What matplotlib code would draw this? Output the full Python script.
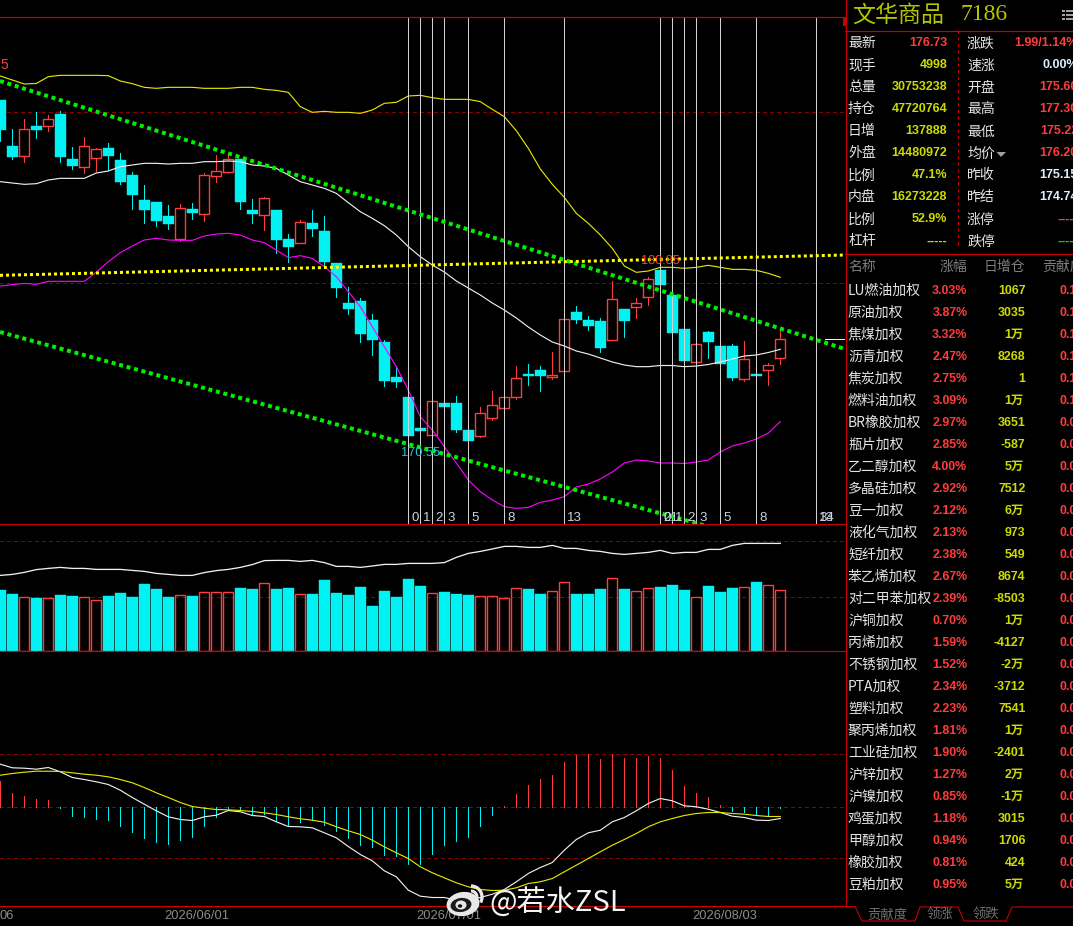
import matplotlib
matplotlib.use("Agg")
import matplotlib.pyplot as plt
from matplotlib.patches import Rectangle, Ellipse, Polygon, Arc

CJK = ['Noto Sans CJK SC', 'DejaVu Sans']
NUM = ['Liberation Sans', 'DejaVu Sans']
plt.rcParams['font.family'] = CJK

# ---------------- data ----------------
opens = [191.07,188.31,187.73,189.51,189.53,190.23,187.53,187.07,187.61,188.19,187.47,186.57,185.07,184.95,184.11,182.75,184.53,184.25,186.53,186.77,187.53,184.47,184.19,184.47,182.73,182.51,183.69,183.21,181.29,178.89,179.01,177.87,176.55,174.45,173.25,171.39,170.97,172.89,172.89,171.27,170.93,172.01,172.61,173.27,174.63,174.87,174.45,174.83,178.35,177.87,177.81,176.69,178.53,178.67,179.27,180.85,179.37,177.33,175.35,177.15,176.31,176.31,174.35,174.63,174.89,175.60]
closes = [189.27,187.65,189.31,189.27,189.91,187.65,187.11,188.29,188.13,187.71,186.15,185.37,184.47,183.81,183.63,184.57,184.29,186.55,186.79,187.51,184.95,184.23,185.17,182.67,182.25,183.73,183.33,181.35,179.79,178.53,177.03,176.67,174.21,174.15,170.91,171.21,172.99,172.65,171.27,170.61,172.27,172.75,173.23,174.37,174.51,174.51,174.57,177.91,177.87,177.51,176.19,179.11,177.81,178.87,180.31,179.97,177.09,175.41,176.41,176.55,175.23,174.39,175.51,174.51,175.15,176.73]
highs = [191.07,189.33,189.91,190.35,190.17,190.41,188.25,188.85,188.19,188.49,187.89,186.75,185.97,184.95,184.77,184.83,184.89,186.69,187.77,187.89,187.53,185.13,185.25,184.47,183.03,183.87,184.47,184.11,181.29,179.85,179.19,178.23,176.67,175.11,173.25,171.39,172.99,172.89,173.31,171.27,172.65,173.61,173.23,175.11,175.23,175.11,175.95,177.91,178.71,178.11,177.99,180.21,178.53,179.19,180.45,180.85,179.43,177.33,176.41,177.21,176.31,176.43,176.61,174.63,175.29,177.30]
lows = [188.61,187.53,187.37,188.79,189.21,187.35,186.93,186.69,186.81,186.87,186.03,184.53,183.69,183.51,183.33,182.61,183.93,183.81,186.15,186.69,184.53,183.69,183.27,181.89,181.35,182.49,182.91,181.11,179.25,178.23,176.55,175.77,173.91,173.85,170.91,171.21,170.97,172.65,171.15,170.55,170.85,171.87,172.61,173.13,173.97,173.61,174.33,174.83,177.69,177.27,175.95,176.67,176.85,177.99,178.77,179.97,177.09,175.41,175.35,175.59,175.23,174.27,174.21,174.51,173.97,175.22]
band_upper = [192.51,192.27,192.03,192.06,192.47,192.55,192.55,192.55,192.55,192.53,192.21,192.05,191.83,191.77,191.83,191.83,191.83,191.77,191.77,191.77,191.83,191.83,191.71,191.65,191.53,190.67,190.33,190.39,190.33,190.33,190.27,190.47,190.87,190.93,191.31,191.35,191.21,191.11,191.11,191.11,190.97,190.51,190.07,189.23,188.17,186.93,186.01,185.23,184.27,183.67,182.97,182.17,181.11,180.73,180.81,181.03,181.03,180.97,181.03,181.15,181.03,180.91,180.91,180.85,180.67,180.43]
band_mid = [186.17,186.09,186.01,186.05,186.27,186.37,186.37,186.37,186.69,186.81,187.07,187.17,187.27,187.27,187.23,187.27,187.27,187.37,187.37,187.41,187.37,187.17,187.11,186.97,186.57,186.17,185.97,185.77,185.47,184.91,184.37,183.97,183.53,182.97,182.27,181.67,181.17,180.75,180.21,179.79,179.37,178.89,178.47,177.99,177.45,176.97,176.55,176.31,176.01,175.83,175.59,175.35,175.17,175.07,175.07,175.14,175.14,175.07,175.11,175.20,175.35,175.53,175.71,175.77,175.92,176.11]
band_lower = [179.91,179.99,180.07,180.01,180.19,180.19,180.19,180.19,180.73,181.37,181.91,182.31,182.67,182.77,182.67,182.65,182.65,182.91,183.03,183.07,182.97,182.67,182.51,182.07,181.61,181.73,181.57,181.07,180.47,179.57,178.67,177.47,176.27,175.07,173.67,172.07,171.27,170.27,169.29,168.27,167.57,167.07,166.67,166.57,166.63,166.93,167.07,167.27,167.85,168.03,168.33,168.75,169.29,169.47,169.41,169.29,169.29,169.26,169.35,169.47,169.95,170.31,170.49,170.73,171.09,171.77]
volume = [30.5,28.5,27,26.5,26.5,28,27.5,27,25.5,27.5,29,27,33.5,31,27,28,27.5,29.5,29.5,29.5,31.5,31,34,31,31.5,28.5,28.5,35.5,29,28,32,22.5,30,27,36,32.5,29,29.5,28.5,28,27.5,27.5,26.5,31.3,31,28.5,30,34.5,28.5,28.5,31,36.5,31,30,31.5,32,33,30.5,27,32.5,29.5,31.5,32,34.5,33,30.75]
open_interest = [37.8,38.3,39.3,40.7,41.3,41.8,41.3,41.3,40.8,40.8,40.8,40.3,39.8,38.8,38.3,37.8,37.8,39.2,40.2,40.8,41.8,43.2,45.2,45.3,45.3,44.8,45.3,44.2,42.3,42.3,41.8,42.5,43.3,43.3,43.8,43.8,43.8,44.2,46.8,48.8,49.8,51,52.3,52.3,51.8,51.8,52.8,51.3,51.3,50.3,49.8,48.8,48.3,48.8,49.3,50.3,48.8,49.3,49.3,50.8,50.8,52.8,53.8,53.8,53.8,53.8]
macd_hist = [2.53,1.33,1.03,.73,.63,-.17,-.97,-1.07,-1.27,-1.37,-1.97,-2.57,-3.17,-3.57,-3.77,-3.37,-3.07,-1.97,-1.07,-.17,-.37,-.87,-.77,-1.47,-1.97,-1.57,-1.37,-1.87,-2.47,-3.17,-3.87,-4.07,-4.87,-4.97,-5.77,-5.77,-4.77,-3.87,-3.47,-3.07,-1.97,-.87,.03,1.23,2.13,2.73,3.13,4.43,5.13,5.23,4.73,5.23,4.83,4.83,5.03,4.83,3.63,2.03,1.33,.93,.13,-.47,-.57,-.87,-.87,-.17]
macd_dif = [4.23,3.87,3.83,3.73,3.9,3.47,2.9,2.7,2.47,2.2,1.63,.9,.23,-.43,-1.03,-1.3,-1.4,-1.03,-.87,-.4,-.53,-.9,-1,-1.53,-2,-2.03,-2.13,-2.63,-3.13,-4,-4.8,-5.43,-6.43,-7.03,-8.37,-8.97,-9.1,-9.1,-9.37,-9.37,-9.1,-8.77,-8.3,-7.53,-6.7,-6.1,-5.6,-4.37,-3.3,-2.63,-2.37,-1.53,-1.1,-.43,.3,.8,.57,.07,-.03,-.27,-.6,-.97,-1.1,-1.37,-1.4,-1.2]
macd_dea = [3.13,3.3,3.43,3.53,3.53,3.5,3.37,3.23,3.13,2.97,2.7,2.37,1.9,1.37,.9,.4,0,-.17,-.3,-.33,-.4,-.5,-.63,-.8,-1.03,-1.23,-1.37,-1.57,-2.03,-2.43,-2.8,-3.37,-4.03,-4.63,-5.2,-6.03,-6.63,-7.13,-7.63,-8.03,-8.3,-8.4,-8.37,-8.13,-7.7,-7.53,-7.2,-6.53,-5.87,-5.2,-4.53,-3.87,-3.3,-2.7,-2.03,-1.53,-1.2,-.9,-.7,-.6,-.6,-.7,-.77,-.9,-1,-1]

trend_x = [-0.025, 70.39]
trend_upper = [192.21, 176.13]
trend_lower = [177.15, 163.23]
trend_flat = [180.55, 181.77]
price_guides = [190.35, 180.09]
vol_guides = [27.25, 55]
macd_guides = [5.3, 0, -5.15]
fib_a = [(34,0),(35,1),(36,2),(37,3),(39,5),(42,8),(47,13),(55,21),(68,34)]
fib_b = [(55,0),(56,1),(57,2),(58,3),(60,5),(63,8),(68,13)]
peak_label = (55, 180.85)
trough_label = (35, 170.55)
date_labels = [("06",7),("2026/06/01",197),("2026/07/01",449),("2026/08/03",725)]

title_name = "文华商品"
title_code = "7186"
quote_left = [("最新","176.73","r"),("现手","4998","y"),("总量","30753238","y"),("持仓","47720764","y"),("日增","137888","y"),("外盘","14480972","y"),("比例","47.1%","y"),("内盘","16273228","y"),("比例","52.9%","y"),("杠杆","-----","y")]
quote_right = [("涨跌","1.99/1.14%","r"),("速涨","0.00%","b"),("开盘","175.60","r"),("最高","177.30","r"),("最低","175.22","r"),("均价","176.20","r"),("昨收","175.15","b"),("昨结","174.74","b"),("涨停","-----","r"),("跌停","-----","g")]
names = ["LU燃油加权","原油加权","焦煤加权","沥青加权","焦炭加权","燃料油加权","BR橡胶加权","瓶片加权","乙二醇加权","多晶硅加权","豆一加权","液化气加权","短纤加权","苯乙烯加权","对二甲苯加权","沪铜加权","丙烯加权","不锈钢加权","PTA加权","塑料加权","聚丙烯加权","工业硅加权","沪锌加权","沪镍加权","鸡蛋加权","甲醇加权","橡胶加权","豆粕加权"]
pcts = ["3.03%","3.87%","3.32%","2.47%","2.75%","3.09%","2.97%","2.85%","4.00%","2.92%","2.12%","2.13%","2.38%","2.67%","2.39%","0.70%","1.59%","1.52%","2.34%","2.23%","1.81%","1.90%","1.27%","0.85%","1.18%","0.94%","0.81%","0.95%"]
oi_changes = ["1067","3035","1万","8268","1","1万","3651","-587","5万","7512","6万","973","549","8674","-8503","1万","-4127","-2万","-3712","7541","1万","-2401","2万","-1万","3015","1706","424","5万"]
contrib = ["0.1"]*6 + ["0.0"]*22
tabs = [("贡献度",887),("领涨",940),("领跌",986)]

# ---------------- style ----------------
W, H = 1073, 926
CY = '#00F2F2'; RD = '#FF3C3C'; YL = '#FFFF00'; DR = '#8E0000'; BORDER = '#C80000'
TXT_Y = '#CCDB00'
VALC = {"r": RD, "y": TXT_Y, "b": '#DDEEFF', "g": '#00E000'}

fig = plt.figure(figsize=(W/100, H/100), dpi=100, facecolor='black')

def pane(top, bottom):
    a = fig.add_axes([0, 1-bottom/H, 845/W, (bottom-top)/H], facecolor='black')
    a.set_axis_off()
    a.set_xlim(trend_x)
    return a

ax = pane(17, 524);  ax.set_ylim(165.63, 196.05)
av = pane(524, 651); av.set_ylim(0, 63.5)
am = pane(651, 906); am.set_ylim(-9.95, 15.55)

PX = 0.72  # points per pixel at dpi 100
xs = list(range(len(closes)))
W_BODY = 0.875
W_HOLLOW = 0.84

def guides(a, vals):
    for v in vals:
        a.axhline(v, color=DR, lw=PX, ls=(0, (4, 4)), zorder=1, antialiased=False)

guides(ax, price_guides); guides(av, vol_guides); guides(am, macd_guides)

def hollow(a, x, bot, height):
    # four crisp one-pixel strokes, brighter than an antialiased patch edge
    left, right = x-W_HOLLOW/2, x+W_HOLLOW/2
    a.plot([left, right, right, left, left], [bot, bot, bot+height, bot+height, bot],
           color=RD, lw=PX*1.4, zorder=2, solid_joinstyle='miter', snap=True)

# candles
for i in xs:
    o, c, h, l = opens[i], closes[i], highs[i], lows[i]
    up = c >= o
    col = RD if up else CY
    top, bot = max(o, c), min(o, c)
    if h > top:
        ax.plot([i, i], [top, h], color=col, lw=PX, zorder=2, solid_capstyle='butt', antialiased=False)
    if l < bot:
        ax.plot([i, i], [l, bot], color=col, lw=PX, zorder=2, solid_capstyle='butt', antialiased=False)
    if up:
        hollow(ax, i, bot, top-bot)
        hollow(av, i, 0, volume[i])
    else:
        ax.add_patch(Rectangle((i-W_BODY/2, bot), W_BODY, top-bot, fc=CY, ec=CY, lw=0.3, zorder=2))
        av.add_patch(Rectangle((i-W_BODY/2, 0), W_BODY, volume[i], fc=CY, ec=CY, lw=0.3, zorder=2))
    am.plot([i, i], [0, macd_hist[i]], color=RD if macd_hist[i] >= 0 else CY, lw=PX, zorder=2,
            solid_capstyle='butt', antialiased=False)

ax.plot(xs, band_upper, color='#E6E600', lw=PX*1.15, zorder=3)
ax.plot(xs, band_mid, color='#F0F0F0', lw=PX*1.15, zorder=3)
ax.plot(xs, band_lower, color='#FF00FF', lw=PX*1.15, zorder=3)
ax.hlines(closes[-1], 68.7, 70.39, color='#F0F0F0', lw=PX, zorder=3, antialiased=False)
av.plot(xs, open_interest, color='#F0F0F0', lw=PX*1.3, zorder=3)
am.plot(xs, macd_dif, color='#F0F0F0', lw=PX*1.15, zorder=3)
am.plot(xs, macd_dea, color='#E6E600', lw=PX*1.15, zorder=3)

# fibonacci time lines
fib_idx = sorted({k for k, _ in fib_a} | {k for k, _ in fib_b})
for k in fib_idx:
    ax.axvline(k, color='#D2D2D2', lw=PX, zorder=4, antialiased=False)
ytxt = 165.63 + (524-518)*0.06
for k, n in fib_a + fib_b:
    ax.annotate(str(n), (k, ytxt), xytext=(3, 0), textcoords='offset pixels', color='#C8D4E4',
                fontsize=9.5, family=NUM, va='center', ha='left', zorder=6)

# trend lines
ax.plot(trend_x, trend_upper, color='#00F000', lw=PX*4, ls=(0, (1, 0.93)), zorder=5)
ax.plot(trend_x, trend_lower, color='#00F000', lw=PX*4, ls=(0, (1, 0.93)), zorder=5)
ax.plot(trend_x, trend_flat, color=YL, lw=PX*3, ls=(0, (1, 1)), zorder=5)

ax.annotate(f"{peak_label[1]:.2f}", peak_label, xytext=(0, 9), textcoords='offset pixels', color=RD,
            fontsize=9.2, family=NUM, ha='center', va='center', zorder=6)
ax.annotate(f"{trough_label[1]:.2f}", trough_label, xytext=(0, -11), textcoords='offset pixels', color='#19C8E6',
            fontsize=9.2, family=NUM, ha='center', va='center', zorder=6)

# ---------------- overlay in pixel space ----------------
ov = fig.add_axes([0, 0, 1, 1], facecolor='none')
ov.set_axis_off(); ov.set_xlim(0, W); ov.set_ylim(H, 0)

def T(x, y, s, c, size=10, ha='left', fam=CJK, w='normal', **kw):
    return ov.text(x, y, s, color=c, fontsize=size, ha=ha, va='center', family=fam, fontweight=w, clip_on=True, **kw)

ov.text(0, 65, "5", color=RD, fontsize=10, family=NUM, ha='left', va='center')

for y in (17, 524, 651, 906):
    ov.plot([0, 845], [y, y], color=BORDER, lw=PX*1.2)
ov.plot([845.5, 845.5], [0, 906], color=BORDER, lw=PX*1.2)
ov.plot([845, W], [30.5, 30.5], color=BORDER, lw=PX*1.2)
ov.plot([845, W], [254, 254], color=BORDER, lw=PX*1.2)
ov.plot([958, 958], [30, 248], color=BORDER, lw=PX*1.1, ls=(0, (3, 3)))
ov.add_patch(Rectangle((843, 17), 3, 9, fc=BORDER, ec='none'))

# header
T(852, 15, title_name, '#B4C400', 16.6)
T(960, 15, title_code, '#B4C400', 17, fam=['Liberation Serif', 'DejaVu Serif'])
for yy in (10.5, 14.5, 18.5):
    ov.add_patch(Rectangle((1062, yy-1), 2.5, 2, fc='#A0A0A0', ec='none'))
    ov.add_patch(Rectangle((1066, yy-1), 7, 2, fc='#A0A0A0', ec='none'))

for r, (lab, val, c) in enumerate(quote_left):
    y = 43.5 + 22*r
    T(848, y, lab, '#E4E4E4')
    T(947, y, val, VALC[c], 9, ha='right', fam=NUM, w='bold')
for r, (lab, val, c) in enumerate(quote_right):
    y = 43.5 + 22*r
    T(967, y, lab, '#E4E4E4')
    T(1078, y, val, VALC[c], 9, ha='right', fam=NUM, w='bold')
ov.add_patch(Polygon([(996.5, 152), (1006, 152), (1001, 157)], fc='#A0A0A0', ec='none'))

# list
T(848, 267, "名称", '#7E7E7E')
T(967, 267, "涨幅", '#7E7E7E', ha='right')
T(1025, 267, "日增仓", '#7E7E7E', ha='right')
T(1042, 267, "贡献度", '#7E7E7E')
for r in range(len(names)):
    y = 290.7 + 22*r
    T(848, y, names[r], '#E4E4E4')
    T(967.5, y, pcts[r], RD, 8.9, ha='right', fam=NUM, w='bold')
    s = oi_changes[r]
    if s.endswith("万"):
        T(1023.5, y, s, TXT_Y, 8.9, ha='right', fam=['Liberation Sans', 'Noto Sans CJK SC'], w='bold')
    else:
        T(1025.5, y, s, TXT_Y, 8.9, ha='right', fam=NUM, w='bold')
    T(1059.5, y, contrib[r], RD, 8.9, fam=NUM, w='bold')

# tabs
ov.plot([846, 855, 862, 915, 920, 958, 964, 1006, 1012, 1073],
        [906.5, 906.5, 921, 921, 907, 907, 921, 921, 907, 907], color=BORDER, lw=PX*1.1)
for s, x in tabs:
    T(x, 915, s, '#707070', 9.6, ha='center')

# dates
for s, x in date_labels:
    T(x, 916, s, '#8C8C8C', 9.3, ha='center', fam=NUM)

# watermark
LG = '#E8E8E8'
ov.add_patch(Ellipse((463, 904), 33, 24, angle=-8, fc=LG, ec='none', zorder=9))
ov.add_patch(Ellipse((461, 905), 21, 14, angle=-8, fc='#1A1A1A', ec='none', zorder=9))
ov.add_patch(Ellipse((461, 905), 11, 9, fc=LG, ec='none', zorder=9))
ov.add_patch(Ellipse((460, 906), 4.5, 3.5, fc='#111111', ec='none', zorder=9))
ov.add_patch(Arc((471, 897), 22, 22, theta1=270, theta2=30, color=LG, lw=2.4, zorder=9))
ov.add_patch(Arc((471, 897), 12, 12, theta1=270, theta2=30, color=LG, lw=2.2, zorder=9))
ov.text(489, 904, "@若水ZSL", color='#F4F4F4', fontsize=21, family=CJK, ha='left', va='center', zorder=9)

fig.savefig("out.png", dpi=100, facecolor='black')
